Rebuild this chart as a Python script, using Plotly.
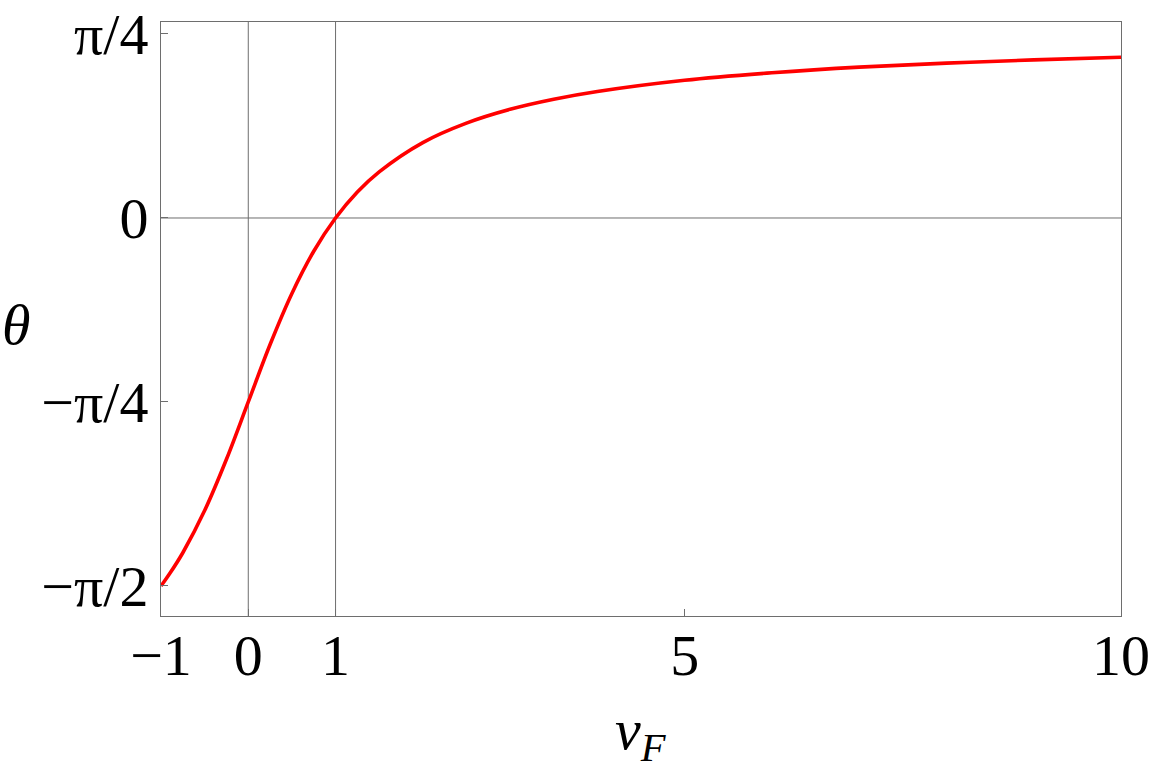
import plotly.graph_objects as go

# values
v_F = [-1.0, -0.9, -0.75, -0.5, -0.25, 0.0, 0.25, 0.5, 0.75, 1.0, 1.25, 1.5, 2.0, 2.5, 3.0,
       3.5, 4.0, 5.0, 6.0, 7.0, 8.0, 9.0, 10.0]
theta = [-1.571, -1.518, -1.429, -1.249, -1.030, -0.785, -0.540, -0.322, -0.142, 0.0, 0.111,
         0.197, 0.322, 0.405, 0.464, 0.507, 0.540, 0.588, 0.620, 0.644, 0.661, 0.675, 0.686]

x_tick_vals = [-1, 0, 1, 5, 10]
x_tick_text = ["\u22121", "0", "1", "5", "10"]
y_tick_vals = [-1.5707963, -0.7853982, 0.0, 0.7853982]
y_tick_text = ["\u2212\u03c0/2", "\u2212\u03c0/4", "0", "\u03c0/4"]
x_axis_lines = [0, 1]
y_axis_lines = [0]

FONT = "Liberation Serif"
GRAY = "#6e6e6e"
FS = 58

fig = go.Figure()
fig.add_trace(go.Scatter(x=v_F, y=theta, mode="lines",
                         line=dict(color="#ff0000", width=3.6, shape="spline", smoothing=1.0),
                         showlegend=False, hoverinfo="skip"))

for xv in x_axis_lines:
    fig.add_shape(type="line", xref="x", yref="paper", x0=xv, x1=xv, y0=0, y1=1,
                  line=dict(color=GRAY, width=1), layer="below")
for yv in y_axis_lines:
    fig.add_shape(type="line", xref="paper", yref="y", x0=0, x1=1, y0=yv, y1=yv,
                  line=dict(color=GRAY, width=1), layer="below")

fig.update_layout(
    width=1152, height=774,
    margin=dict(l=161, r=31, t=22, b=158),
    paper_bgcolor="white", plot_bgcolor="white",
    font=dict(family=FONT, size=FS, color="black"),
    xaxis=dict(range=[-1, 10], tickvals=x_tick_vals, ticktext=x_tick_text, automargin=False,
               showgrid=False, zeroline=False, showline=True, mirror=True,
               linecolor=GRAY, linewidth=1, ticks="inside", ticklen=7, tickcolor=GRAY,
               tickwidth=1, tickfont=dict(family=FONT, size=FS), ticklabelstandoff=-12,
               ticklabeloverflow="allow"),
    yaxis=dict(range=[-1.699, 0.8366], tickvals=y_tick_vals, ticktext=y_tick_text, automargin=False,
               showgrid=False, zeroline=False, showline=True, mirror=True,
               linecolor=GRAY, linewidth=1, ticks="inside", ticklen=7, tickcolor=GRAY,
               tickwidth=1, tickfont=dict(family=FONT, size=FS), ticklabeloverflow="allow"),
    annotations=[
        dict(text="<i>\u03b8</i>", xref="paper", yref="paper", x=-0.168, y=0.49,
             xanchor="left", yanchor="middle", showarrow=False,
             font=dict(family=FONT, size=FS)),
        dict(text="<i>v</i><sub><i>F</i></sub>", xref="paper", yref="paper", x=0.5, y=-0.133,
             xanchor="center", yanchor="top", showarrow=False,
             font=dict(family=FONT, size=FS)),
    ],
)

fig.write_html("out.html", config={"displayModeBar": False},
               post_script="document.body.style.margin='0';document.body.style.overflow='hidden';")
